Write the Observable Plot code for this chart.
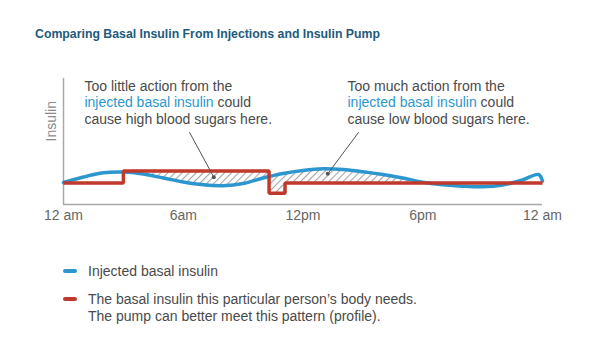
<!DOCTYPE html>
<html>
<head>
<meta charset="utf-8">
<script src="https://cdn.jsdelivr.net/npm/d3@7"></script>
<script src="https://cdn.jsdelivr.net/npm/@observablehq/plot@0.6"></script>
<style>
  html, body { margin: 0; padding: 0; background: #fff; }
  body { font-family: "Liberation Sans", Arial, sans-serif; }
  #wrap { position: relative; width: 600px; height: 350px; overflow: hidden; }
  #title { position: absolute; left: 35px; top: 26px; font-size: 12.3px; line-height: 16px; font-weight: bold; color: #1e5a7d; white-space: nowrap; }
  #chart { position: absolute; left: 0; top: 50px; }
  .legend-item { position: absolute; left: 88px; font-size: 14px; line-height: 17px; color: #4a4a4a; white-space: nowrap; }
  .swatch { position: absolute; left: 63px; width: 14px; height: 4px; border-radius: 2px; }
</style>
</head>
<body>
<div id="wrap">
  <div id="title"></div>
  <div id="chart"></div>
</div>
<script>
// ---------- data ----------
const titleText = "Comparing Basal Insulin From Injections and Insulin Pump";
const yLabel = "Insulin";

const tickHours = [0, 6, 12, 18, 24];
const tickLabels = ["12 am", "6am", "12pm", "6pm", "12 am"];

// Injected basal insulin (smooth curve)
const blueHours  = [0, 1, 2, 3, 4, 5, 6, 7, 8, 9, 10, 11, 12, 13, 14, 15, 16, 17, 18, 19, 20, 21, 22, 23, 23.8, 24];
const blueLevels = [2.2, 2.75, 3.17, 3.25, 3.05, 2.65, 2.25, 1.97, 1.88, 2.1, 2.65, 3.1, 3.4, 3.57, 3.5, 3.28, 3.0, 2.65, 2.22, 1.98, 1.83, 1.77, 1.95, 2.45, 3.0, 2.35];

// Body needs / pump profile (step)
const redHours  = [0, 3, 10.3, 11.1, 24];
const redLevels = [2.15, 3.35, 1.12, 2.15, 2.15];

// hatched mismatch region
const hatchFrom = 3;
const hatchTo = 18.3;

// annotations
const noteHours = [1.05, 14.23];
const noteLevels = [12.55, 12.55];
const noteTexts = [
  "Too little action from the\ninjected basal insulin could\ncause high blood sugars here.",
  "Too much action from the\ninjected basal insulin could\ncause low blood sugars here."
];
const highlight = "injected basal insulin";

const leaderX1 = [6.31, 14.79];
const leaderY1 = [7.23, 7.23];
const leaderX2 = [7.53, 13.24];
const leaderY2 = [2.73, 3.07];

const legendLabels = [
  "Injected basal insulin",
  "The basal insulin this particular person’s body needs.\nThe pump can better meet this pattern (profile)."
];
const blueColor = "#2c96d0";
const redColor = "#c0392b";
const legendColors = [blueColor, redColor];

// ---------- build tables ----------
const blueData = blueHours.map((h, i) => ({h, v: blueLevels[i]}));
const redData = redHours.map((h, i) => ({h, v: redLevels[i]}));

function blueAt(h) {
  for (let i = 0; i < blueHours.length - 1; i++) {
    if (h >= blueHours[i] && h <= blueHours[i + 1]) {
      const t = (h - blueHours[i]) / (blueHours[i + 1] - blueHours[i]);
      return blueLevels[i] + t * (blueLevels[i + 1] - blueLevels[i]);
    }
  }
  return blueLevels[blueLevels.length - 1];
}
function redIndex(h) {
  let k = 0;
  for (let i = 0; i < redHours.length; i++) if (redHours[i] <= h) k = i;
  return k;
}
const xs = Array.from(new Set([hatchFrom, hatchTo,
  ...blueHours.filter(h => h > hatchFrom && h < hatchTo),
  ...redHours.filter(h => h > hatchFrom && h < hatchTo)])).sort((a, b) => a - b);
const areaData = [];
for (const h of xs) {
  const k = redIndex(h);
  const b = blueAt(h);
  if (redHours.includes(h) && h !== hatchFrom && k > 0) {
    areaData.push({h, b, r: redLevels[k - 1]});
  }
  areaData.push({h, b, r: redLevels[k]});
}

const leaders = leaderX1.map((x, i) => ({x1: x, y1: leaderY1[i], x2: leaderX2[i], y2: leaderY2[i]}));
const notes = noteHours.map((h, i) => ({h, v: noteLevels[i], text: noteTexts[i]}));

// ---------- chart ----------
document.getElementById("title").textContent = titleText;

const plot = Plot.plot({
  width: 600,
  height: 185,
  marginLeft: 63,
  marginRight: 58,
  marginTop: 28,
  marginBottom: 31,
  style: {fontFamily: "'Liberation Sans', Arial, sans-serif", fontSize: "14px", color: "#666", background: "transparent", overflow: "visible"},
  x: {domain: [0, 24], ticks: tickHours, tickFormat: (d) => tickLabels[tickHours.indexOf(d)], tickSize: 0, tickPadding: 6, label: null},
  y: {domain: [0, 12.6], axis: null},
  marks: [
    Plot.areaY(areaData, {x: "h", y1: "b", y2: "r", fill: "#999999"}),
    Plot.ruleX([0], {stroke: "#a8a8a8", strokeWidth: 1.5}),
    Plot.ruleY([0], {stroke: "#a8a8a8", strokeWidth: 1.5}),
    Plot.text([yLabel], {frameAnchor: "left", rotate: -90, dx: -12, fill: "#8a8a8a", fontSize: 14}),
    Plot.line(blueData, {x: "h", y: "v", curve: "catmull-rom", stroke: blueColor, strokeWidth: 3.5, strokeLinecap: "round"}),
    Plot.line(redData, {x: "h", y: "v", curve: "step-after", stroke: redColor, strokeWidth: 3.5, strokeLinejoin: "miter", strokeLinecap: "butt"}),
    Plot.link(leaders, {x1: "x1", y1: "y1", x2: "x2", y2: "y2", stroke: "#555", strokeWidth: 1}),
    Plot.dot(leaders, {x: "x2", y: "y2", r: 2, fill: "#555", stroke: null}),
    Plot.text(notes, {x: "h", y: "v", text: "text", textAnchor: "start", lineAnchor: "top", lineHeight: 1.19, fontSize: 14, fill: "#4a4a4a"})
  ]
});

// hatch pattern
const ns = "http://www.w3.org/2000/svg";
const defs = document.createElementNS(ns, "defs");
const pat = document.createElementNS(ns, "pattern");
pat.setAttribute("id", "hatch");
pat.setAttribute("patternUnits", "userSpaceOnUse");
pat.setAttribute("width", "5");
pat.setAttribute("height", "5");
pat.setAttribute("patternTransform", "rotate(45)");
const pl = document.createElementNS(ns, "line");
pl.setAttribute("x1", "0"); pl.setAttribute("y1", "-1");
pl.setAttribute("x2", "0"); pl.setAttribute("y2", "6");
pl.setAttribute("stroke", "#a5a5a5");
pl.setAttribute("stroke-width", "2.2");
pat.appendChild(pl);
defs.appendChild(pat);
plot.insertBefore(defs, plot.firstChild);
plot.querySelectorAll('g[aria-label="area"]').forEach(g => {
  g.setAttribute("fill", "url(#hatch)");
  g.querySelectorAll("path").forEach(p => p.setAttribute("fill", "url(#hatch)"));
});

// color highlighted phrase in annotations
plot.querySelectorAll("text, tspan").forEach(ts => {
  if (ts.querySelector && ts.querySelector("tspan")) return;
  const t = ts.textContent;
  const idx = t.indexOf(highlight);
  if (idx >= 0) {
    const before = t.slice(0, idx), after = t.slice(idx + highlight.length);
    ts.textContent = "";
    if (before) ts.appendChild(document.createTextNode(before));
    const hs = document.createElementNS(ns, "tspan");
    hs.setAttribute("fill", blueColor);
    hs.textContent = highlight;
    ts.appendChild(hs);
    if (after) ts.appendChild(document.createTextNode(after));
  }
});

document.getElementById("chart").appendChild(plot);

// legend
const wrap = document.getElementById("wrap");
const legendTops = [262.5, 290.5];
legendLabels.forEach((label, i) => {
  const sw = document.createElement("div");
  sw.className = "swatch";
  sw.style.background = legendColors[i];
  sw.style.top = (legendTops[i] + 6.5) + "px";
  wrap.appendChild(sw);
  const it = document.createElement("div");
  it.className = "legend-item";
  it.style.top = legendTops[i] + "px";
  label.split("\n").forEach((line, j) => {
    if (j) it.appendChild(document.createElement("br"));
    it.appendChild(document.createTextNode(line));
  });
  wrap.appendChild(it);
});
</script>
</body>
</html>
